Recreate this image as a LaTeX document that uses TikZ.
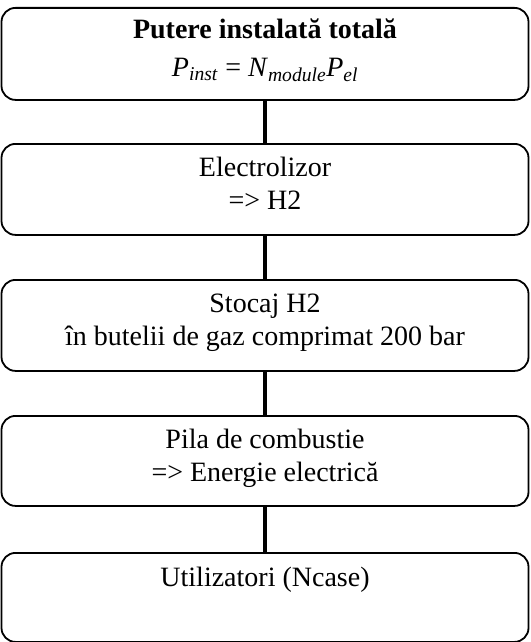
\documentclass[tikz,border=0pt]{standalone}
\usepackage{fontspec}
\setmainfont{Liberation Serif}
\begin{document}
\begin{tikzpicture}[x=1pt,y=1pt,
  box/.style={draw, line width=1.8pt, rounded corners=14pt, minimum width=527pt, inner sep=0pt, anchor=north},
  txt/.style={font=\fontsize{28}{33}\selectfont, anchor=base, inner sep=0pt},
  link/.style={line width=4.5pt}]
\useasboundingbox (0,0) rectangle (530,-642);
% boxes
\node[box, minimum height=92pt] (b1) at (265,-7) {};
\node[box, minimum height=91pt] (b2) at (265,-143) {};
\node[box, minimum height=91pt] (b3) at (265,-279) {};
\node[box, minimum height=90pt] (b4) at (265,-415) {};
\node[box, minimum height=89pt] (b5) at (265,-552) {};
% connectors
\draw[link] (b1.south) -- (b2.north);
\draw[link] (b2.south) -- (b3.north);
\draw[link] (b3.south) -- (b4.north);
\draw[link] (b4.south) -- (b5.north);
% texts
\node[txt] (t1a) at (265,-39) {\textbf{Putere instalată totală}};
\node[txt] (t1b) at (265,-76) {\textit{P}\textsubscript{\textit{inst}} = \textit{N}\textsubscript{\textit{module}}\textit{P}\textsubscript{\textit{el}}};
\node[txt] (t2a) at (265,-176) {Electrolizor};
\node[txt] (t2b) at (265,-209) {=> H2};
\node[txt] (t3a) at (265,-312) {Stocaj H2};
\node[txt] (t3b) at (265,-345) {în butelii de gaz comprimat 200 bar};
\node[txt] (t4a) at (265,-448) {Pila de combustie};
\node[txt] (t4b) at (265,-481) {=> Energie electrică};
\node[txt] (t5a) at (265,-586) {Utilizatori (Ncase)};
\end{tikzpicture}
\end{document}
